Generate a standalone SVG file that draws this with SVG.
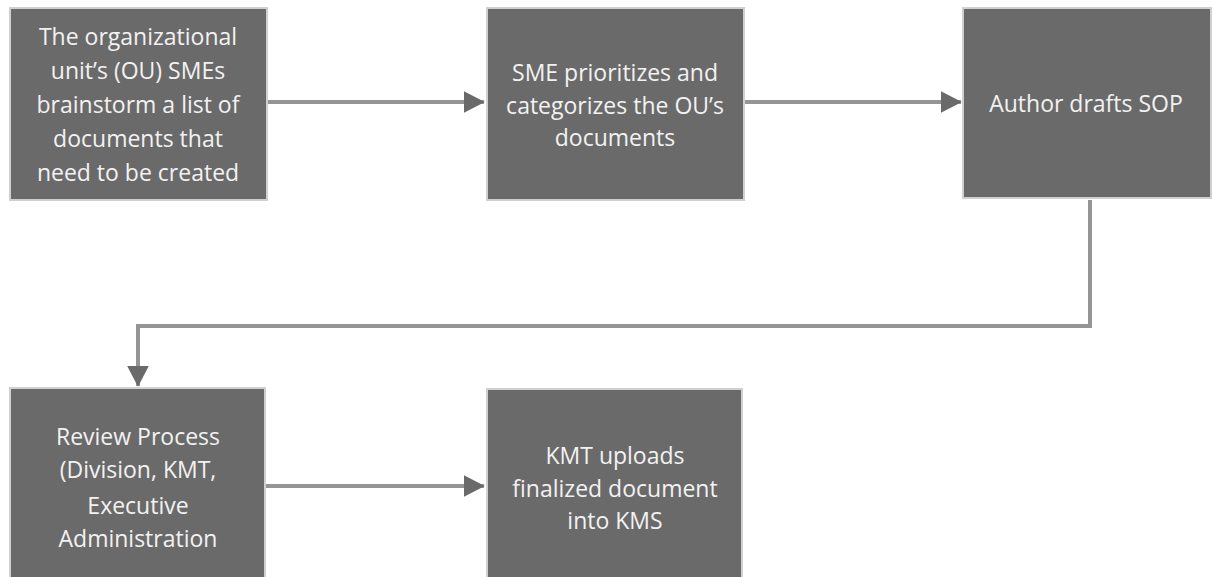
<svg xmlns="http://www.w3.org/2000/svg" width="1212" height="577" viewBox="0 0 1212 577">
<style>
.box{fill:#6a6a6a;stroke:#d0d0d0;stroke-width:2}
.t{font-family:"Open Sans","Noto Sans",sans-serif;font-size:23px;fill:#f2f2f2;text-anchor:middle;dominant-baseline:central}
.c{fill:none;stroke:#959595;stroke-width:4}
</style>
<defs>
<marker id="ah" markerWidth="6" markerHeight="6" refX="5" refY="3" orient="auto" markerUnits="strokeWidth">
<path d="M0,0.3 L5.2,3 L0,5.7 z" fill="#6a6a6a"/>
</marker>
</defs>
<rect width="1212" height="577" fill="#ffffff"/>
<g id="connectors">
<line class="c" x1="268" y1="102" x2="484" y2="102" marker-end="url(#ah)"/>
<line class="c" x1="745" y1="102" x2="961" y2="102" marker-end="url(#ah)"/>
<polyline class="c" points="1090,200 1090,326 138,326 138,386" marker-end="url(#ah)"/>
<line class="c" x1="266" y1="486" x2="484" y2="486" marker-end="url(#ah)"/>
</g>
<g id="n1">
<rect class="box" x="10" y="8" width="257" height="192"/>
<text class="t" x="138" y="36">The organizational</text>
<text class="t" x="138" y="70">unit’s (OU) SMEs</text>
<text class="t" x="138" y="104">brainstorm a list of</text>
<text class="t" x="138" y="138">documents that</text>
<text class="t" x="138" y="172">need to be created</text>
</g>
<g id="n2">
<rect class="box" x="487" y="8" width="257" height="192"/>
<text class="t" x="615" y="72">SME prioritizes and</text>
<text class="t" x="615" y="105">categorizes the OU’s</text>
<text class="t" x="615" y="137">documents</text>
</g>
<g id="n3">
<rect class="box" x="963" y="8" width="248" height="190"/>
<text class="t" x="1086" y="103">Author drafts SOP</text>
</g>
<g id="n4">
<rect class="box" x="10" y="388" width="255" height="200"/>
<text class="t" x="138" y="436">Review Process</text>
<text class="t" x="138" y="469">(Division, KMT,</text>
<text class="t" x="138" y="505">Executive</text>
<text class="t" x="138" y="538">Administration</text>
</g>
<g id="n5">
<rect class="box" x="487" y="389" width="255" height="200"/>
<text class="t" x="615" y="455">KMT uploads</text>
<text class="t" x="615" y="488">finalized document</text>
<text class="t" x="615" y="520">into KMS</text>
</g>
</svg>
